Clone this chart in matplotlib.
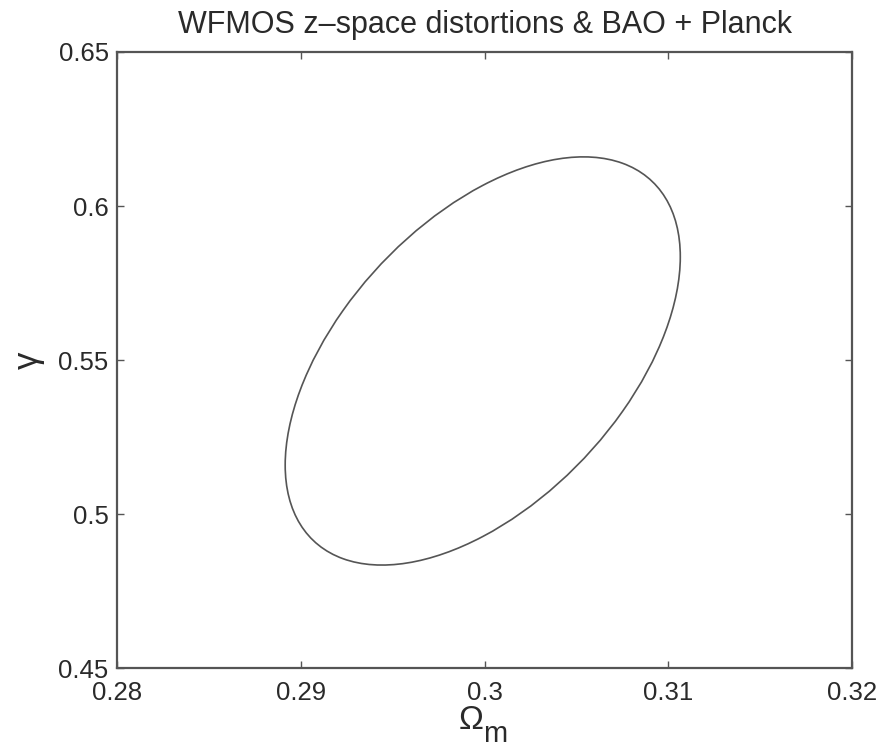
import numpy as np
import matplotlib.pyplot as plt
from matplotlib.patches import Ellipse
from matplotlib.transforms import Affine2D

# valores (contorno de confianza)
centro = [0.2999, 0.5497]       # Omega_m, gamma
semi_ejes = [0.01075, 0.06625]  # extension horizontal y vertical del contorno
correlacion = 0.51

x_ticks = [0.28, 0.29, 0.30, 0.31, 0.32]
x_ticklabels = ["0.28", "0.29", "0.3", "0.31", "0.32"]
y_ticks = [0.45, 0.50, 0.55, 0.60, 0.65]
y_ticklabels = ["0.45", "0.5", "0.55", "0.6", "0.65"]

plt.rcParams["font.family"] = ["Liberation Sans", "DejaVu Sans"]

fig = plt.figure(figsize=(8.88, 7.49), dpi=100)
ax = fig.add_axes([0.1318, 0.108, 0.8278, 0.8226])

# circulo unitario llevado al contorno con la covarianza
rho = correlacion
mat = Affine2D.from_values(semi_ejes[0], semi_ejes[1] * rho, 0,
                           semi_ejes[1] * np.sqrt(1 - rho**2),
                           centro[0], centro[1])
elipse = Ellipse((0, 0), 2, 2, fill=False, edgecolor="#555555", linewidth=1.2,
                 transform=mat + ax.transData)
ax.add_patch(elipse)

ax.set_xlim(0.28, 0.32)
ax.set_ylim(0.45, 0.65)
ax.set_xticks(x_ticks)
ax.set_xticklabels(x_ticklabels)
ax.set_yticks(y_ticks)
ax.set_yticklabels(y_ticklabels)

ax.tick_params(direction="in", top=True, right=True, length=5, width=1,
               labelsize=18.5, colors="#555555", labelcolor="#2a2a2a")
ax.tick_params(axis="x", pad=9)
ax.tick_params(axis="y", pad=6)
for s in ax.spines.values():
    s.set_color("#555555")
    s.set_linewidth(1.6)

ax.set_title("WFMOS z\u2013space distortions & BAO + Planck", fontsize=22,
             color="#2a2a2a", pad=14)

# etiqueta x estilo matlab: Omega y subindice m separado
ax.annotate("\u03a9", xy=(0.481, 0), xycoords="axes fraction",
            xytext=(0, -61), textcoords="offset pixels",
            ha="center", va="baseline", fontsize=24, color="#2a2a2a")
ax.annotate("m", xy=(0.515, 0), xycoords="axes fraction",
            xytext=(0, -74), textcoords="offset pixels",
            ha="center", va="baseline", fontsize=21, color="#2a2a2a")

ax.set_ylabel("\u03b3", fontsize=25, color="#2a2a2a", labelpad=10)

fig.savefig("out.png", dpi=100, facecolor="white")
